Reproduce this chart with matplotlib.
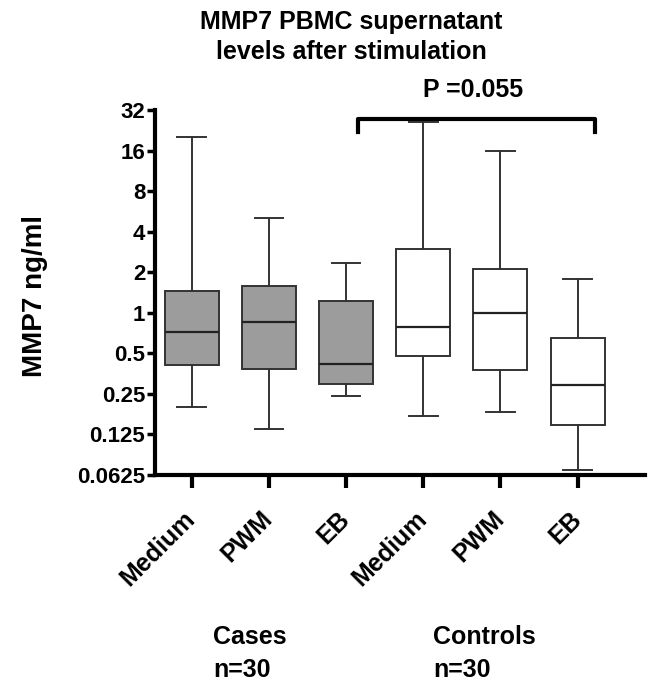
import matplotlib
matplotlib.use("Agg")
import matplotlib.pyplot as plt

plt.rcParams['font.family'] = ['Liberation Sans', 'DejaVu Sans']
plt.rcParams['font.weight'] = 'bold'

# values (ng/ml)
groups = ["Medium", "PWM", "EB", "Medium", "PWM", "EB"]
whisker_low = [0.199, 0.138, 0.24, 0.172, 0.182, 0.0686]
q1 = [0.41, 0.382, 0.297, 0.48, 0.378, 0.147]
median = [0.714, 0.853, 0.416, 0.79, 1.0, 0.291]
q3 = [1.456, 1.586, 1.22, 2.97, 2.13, 0.646]
whisker_high = [20.1, 5.09, 2.33, 25.9, 16.0, 1.78]
filled = [True, True, True, False, False, False]

yticks = [0.0625, 0.125, 0.25, 0.5, 1, 2, 4, 8, 16, 32]
ytick_labels = ["0.0625", "0.125", "0.25", "0.5", "1", "2", "4", "8", "16", "32"]
p_text = "P =0.055"
bracket_y = [22.1, 27.4]

fig = plt.figure(figsize=(6.5, 6.82), dpi=100)
ax = fig.add_axes([0.2385, 0.3035, 0.7535, 0.5352])

stats = []
for i in range(len(groups)):
    stats.append(dict(med=median[i], q1=q1[i], q3=q3[i],
                      whislo=whisker_low[i], whishi=whisker_high[i]))

pos = list(range(1, len(groups) + 1))
bp = ax.bxp(stats, positions=pos, widths=0.7, showfliers=False,
            patch_artist=True,
            boxprops=dict(edgecolor="#333333", linewidth=1.4),
            medianprops=dict(color="#222222", linewidth=1.6),
            whiskerprops=dict(color="#333333", linewidth=1.4),
            capprops=dict(color="#333333", linewidth=1.4),
            capwidths=0.37)
for patch, f in zip(bp["boxes"], filled):
    patch.set_facecolor("#9c9c9c" if f else "white")

ax.set_yscale("log", base=2)
ax.set_ylim(0.0625, 32)
ax.set_xlim(0.525, 6.87)
ax.set_yticks(yticks)
ax.set_yticklabels(ytick_labels)
ax.minorticks_off()
ax.set_xticks(pos)
ax.set_xticklabels(groups, rotation=45, ha="right", va="center",
                   rotation_mode="anchor")

for s in ["top", "right"]:
    ax.spines[s].set_visible(False)
for s in ["left", "bottom"]:
    ax.spines[s].set_linewidth(3)
ax.tick_params(axis="y", width=2.5, length=6, labelsize=16, pad=1)
ax.tick_params(axis="x", width=3, length=9, labelsize=18, pad=20)
for lab in ax.get_xticklabels() + ax.get_yticklabels():
    lab.set_fontweight("bold")

ax.set_ylabel("MMP7 ng/ml", fontsize=20, fontweight="bold")
ax.yaxis.set_label_coords(-0.218, 0.49)

# significance bracket between cases EB and controls EB
ax.plot([3.15, 3.15, 6.22, 6.22],
        [bracket_y[0], bracket_y[1], bracket_y[1], bracket_y[0]],
        color="black", linewidth=3, clip_on=False)
fig.text(0.728, 0.868, p_text, ha="center", va="center", fontsize=18, fontweight="bold")

fig.text(0.54, 0.946, "MMP7 PBMC supernatant\nlevels after stimulation",
         ha="center", va="center", fontsize=18, fontweight="bold", linespacing=1.3)

fig.text(0.328, 0.042, "Cases\nn=30", ha="left", va="center", fontsize=18,
         fontweight="bold", linespacing=1.45)
fig.text(0.666, 0.042, "Controls\nn=30", ha="left", va="center", fontsize=18,
         fontweight="bold", linespacing=1.45)

fig.savefig("out.png", dpi=100)
